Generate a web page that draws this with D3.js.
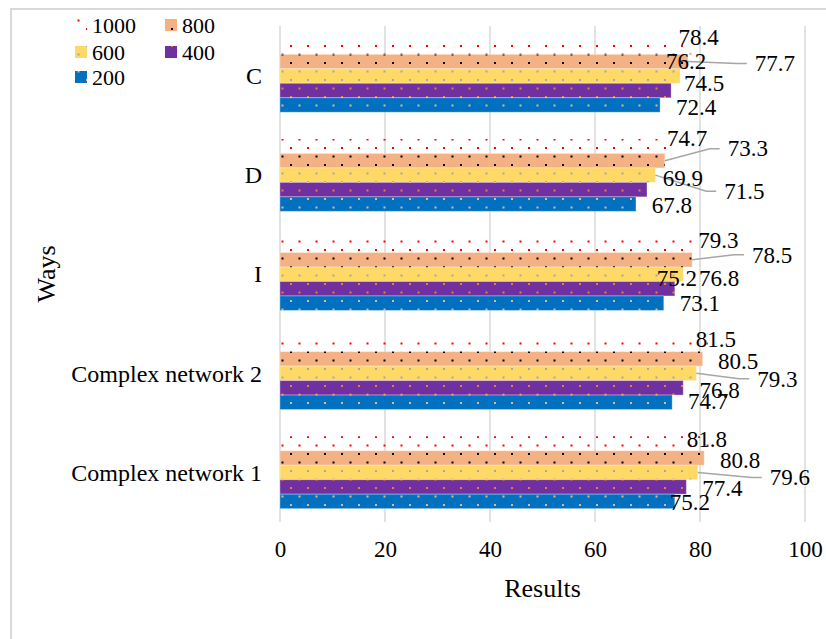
<!DOCTYPE html>
<html><head><meta charset="utf-8">
<script src="https://cdn.jsdelivr.net/npm/d3@7"></script>
<style>
html,body{margin:0;padding:0;background:#fff;}
svg{display:block;}
text{font-family:"Liberation Serif","Times New Roman",serif;fill:#000;}
</style></head>
<body>
<svg id="chart" width="826" height="639"></svg>
<script>
const categories = ["C", "D", "I", "Complex network 2", "Complex network 1"];
const seriesNames = ["1000", "800", "600", "400", "200"];
const s1000 = [78.4, 74.7, 79.3, 81.5, 81.8];
const s800  = [77.7, 73.3, 78.5, 80.5, 80.8];
const s600  = [76.2, 71.5, 76.8, 79.3, 79.6];
const s400  = [74.5, 69.9, 75.2, 76.8, 77.4];
const s200  = [72.4, 67.8, 73.1, 74.7, 75.2];
const xTicks = [0, 20, 40, 60, 80, 100];
const xTitle = "Results";
const yTitle = "Ways";

// label nudges (layout only): [dx from bar end, dy from bar centre, leader?]
const labelNudges = [
  [[7,-10,0],[87,2,1],[6,-14.5,0],[33,-7.5,0],[36,2,0]],
  [[15,-8,0],[83,-12,1],[89,16,1],[36,-11.5,0],[36,1,0]],
  [[22,-5.5,0],[80,-5,1],[36,3.5,0],[2,-10.5,0],[36,0,0]],
  [[8,-5,0],[35.5,2,0],[81,5.5,1],[36.5,2,0],[36,-1.5,0]],
  [[-2.5,-4,0],[36,2,0],[92,5,1],[36,1,0],[15,0.5,0]]
];

const seriesValues = [s1000, s800, s600, s400, s200];
const styles = {
  "1000": {bg: "none", dot: "#ff0000"},
  "800":  {bg: "#F4B183", dot: "#000000"},
  "600":  {bg: "#FFD966", dot: "#a6a6a6"},
  "400":  {bg: "#7030A0", dot: "#ED7D31"},
  "200":  {bg: "#0070C0", dot: "#F4B183"}
};

const svg = d3.select("#chart");
const FS = 23;

// border
svg.append("rect").attr("x", 11).attr("y", 9).attr("width", 830).attr("height", 640)
  .attr("fill", "none").attr("stroke", "#d9d9d9").attr("stroke-width", 2);

// patterns
const defs = svg.append("defs");
seriesNames.forEach((s, i) => {
  const p = defs.append("pattern").attr("id", "pat" + s)
    .attr("patternUnits", "userSpaceOnUse").attr("width", 17).attr("height", 17);
  if (styles[s].bg !== "none") p.append("rect").attr("width", 17).attr("height", 17).attr("fill", styles[s].bg);
  p.append("rect").attr("x", 1).attr("y", 11).attr("width", 2).attr("height", 2).attr("fill", styles[s].dot);
  p.append("rect").attr("x", 9.5).attr("y", 2.5).attr("width", 2).attr("height", 2).attr("fill", styles[s].dot);
});

const x = d3.scaleLinear().domain([0, 100]).range([280, 805]);
const y = d3.scaleBand().domain(categories).range([26.5, 522]).paddingInner(0.27).paddingOuter(0.135);
const yInner = d3.scaleBand().domain(seriesNames).range([0, y.bandwidth()]);

// gridlines
svg.append("g").selectAll("line").data(xTicks).join("line")
  .attr("x1", d => x(d)).attr("x2", d => x(d))
  .attr("y1", 26).attr("y2", 522)
  .attr("stroke", "#d9d9d9").attr("stroke-width", 1.5);

// x axis tick labels
const xAxis = d3.axisBottom(x).tickValues(xTicks).tickSize(0).tickPadding(0).tickFormat(d3.format("d"));
const gx = svg.append("g").attr("transform", "translate(0,541)").call(xAxis);
gx.select(".domain").remove();
gx.selectAll("text").attr("font-size", FS).attr("font-family", "Liberation Serif").attr("fill", "#000").attr("dy", "0.7em");

// y axis category labels
const yAxis = d3.axisLeft(y).tickSize(0).tickPadding(0);
const gy = svg.append("g").attr("transform", "translate(262,0)").call(yAxis);
gy.select(".domain").remove();
gy.selectAll("text").attr("font-size", 24).attr("font-family", "Liberation Serif").attr("fill", "#000").attr("dy", "0.34em");

// bars
const bars = svg.append("g");
categories.forEach((c, ci) => {
  seriesNames.forEach((s, si) => {
    const v = seriesValues[si][ci];
    bars.append("rect")
      .attr("x", x(0)).attr("y", y(c) + yInner(s))
      .attr("width", x(v) - x(0)).attr("height", yInner.bandwidth())
      .attr("fill", "url(#pat" + s + ")")
      .attr("stroke", styles[s].bg === "none" ? "none" : "rgba(255,255,255,0.3)")
      .attr("stroke-width", 1);
  });
});

// labels
const lg = svg.append("g");
categories.forEach((c, ci) => {
  seriesNames.forEach((s, si) => {
    const v = seriesValues[si][ci];
    const [dx, dy, leader] = labelNudges[ci][si];
    const bx = x(v), by = y(c) + yInner(s) + yInner.bandwidth() / 2;
    const cx = bx + dx, cy = by + dy;
    const t = lg.append("text").attr("x", cx).attr("y", cy + 7.8)
      .attr("text-anchor", "middle").attr("font-size", FS).text(d3.format(".1f")(v));
    if (leader) {
      const w = t.node().getComputedTextLength();
      const left = cx - w / 2;
      lg.insert("polyline", "text")
        .attr("points", [[bx, by], [left - 18, cy], [left - 8, cy]].map(p => p.join(",")).join(" "))
        .attr("fill", "none").attr("stroke", "#a6a6a6").attr("stroke-width", 1.5);
    }
  });
});

// axis titles
svg.append("text").attr("x", (x(0) + x(100)) / 2).attr("y", 597)
  .attr("text-anchor", "middle").attr("font-size", 26).text(xTitle);
svg.append("text").attr("transform", "translate(55,274) rotate(-90)")
  .attr("text-anchor", "middle").attr("font-size", 26).text(yTitle);

// legend
const legendPos = [[75, 25], [165, 25], [75, 52], [165, 52], [75, 77]];
const leg = svg.append("g");
seriesNames.forEach((s, i) => {
  const [lx, ly] = legendPos[i];
  leg.append("rect").attr("x", lx).attr("y", ly - 6).attr("width", 12).attr("height", 12)
    .attr("fill", "url(#pat" + s + ")");
  leg.append("text").attr("x", lx + 17).attr("y", ly + 7.5).attr("font-size", 22).text(s);
});
</script>
</body></html>
